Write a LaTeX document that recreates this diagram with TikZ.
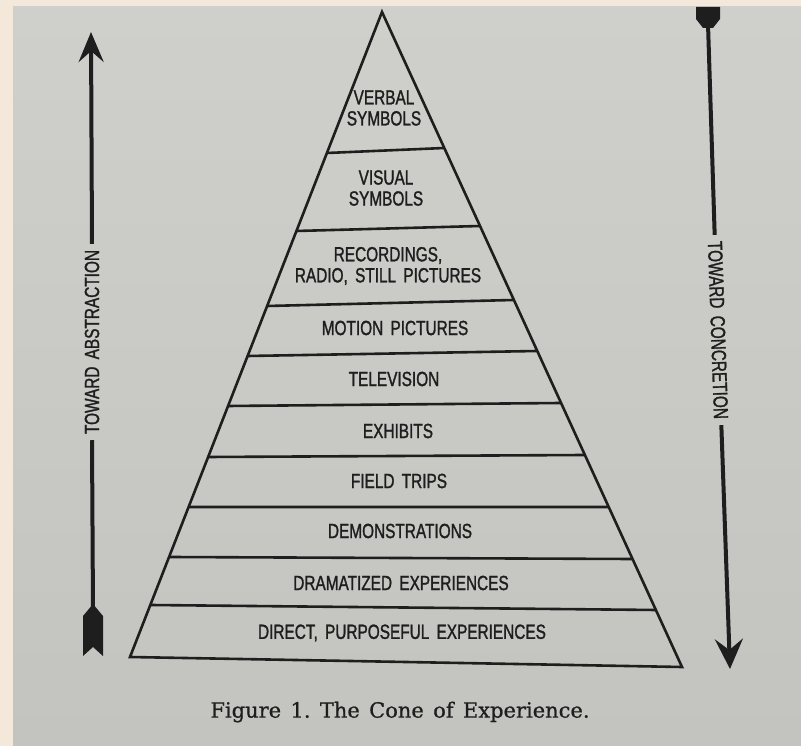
\documentclass[tikz,border=0pt]{standalone}
\usepackage{fontspec}
\usepackage{tikz}
\usetikzlibrary{arrows.meta, positioning, calc}
\newfontfamily\conefont[FakeStretch=0.75, FakeBold=1.3, WordSpace=1.7]{Liberation Sans}
\newfontfamily\capfont[WordSpace=1.4, FakeBold=0.8]{DejaVu Serif}
\definecolor{ink}{HTML}{1E1E1E}
\definecolor{cream}{HTML}{F4E8DA}
\definecolor{paperhi}{HTML}{CFD0CC}
\definecolor{paperlo}{HTML}{C3C4C0}

\begin{document}
\begin{tikzpicture}[x=1pt, y=-1pt,
  conel/.style={ink, line width=2.6pt},
  shaft/.style={ink, line width=4pt},
  lbl/.style={font=\conefont\fontsize{20.5}{21}\selectfont, text=ink, align=center, inner sep=0pt},
  side/.style={font=\conefont\fontsize{20.5}{21}\selectfont, text=ink, inner xsep=6pt, inner ysep=0pt}]
  \useasboundingbox (0,0) rectangle (801,746);
  \fill[cream] (0,0) rectangle (801,746);
  \shade[top color=paperhi, bottom color=paperlo] (13,7) rectangle (801,746);

  % the cone
  \coordinate (apex) at (382,12);
  \coordinate (bl) at (130,657);
  \coordinate (br) at (682,667);
  \draw[conel, line join=miter] (apex) -- (bl) -- (br) -- cycle;
  \foreach \yl/\yr [count=\i] in {153/148, 231/226, 306/300, 356/351, 406/403, 457/455, 507/507, 557/559, 605/610} {
    \coordinate (l\i) at ($(apex)!{(\yl-12)/645}!(bl)$);
    \coordinate (r\i) at ($(apex)!{(\yr-12)/655}!(br)$);
    \draw[conel] (l\i) -- (r\i);
  }

  \node[lbl] (verbal) at (384,108) {VERBAL\\SYMBOLS};
  \node[lbl] (visual) at (386,188) {VISUAL\\SYMBOLS};
  \node[lbl] (record) at (388,266) {RECORDINGS,\\RADIO, STILL PICTURES};
  \node[lbl] (motion) at (395,328) {MOTION PICTURES};
  \node[lbl] (tv) at (394,379) {TELEVISION};
  \node[lbl] (exhibit) at (398,431) {EXHIBITS};
  \node[lbl] (field) at (399,481) {FIELD TRIPS};
  \node[lbl] (demo) at (400,531) {DEMONSTRATIONS};
  \node[lbl] (drama) at (401,583) {DRAMATIZED EXPERIENCES};
  \node[lbl] (direct) at (402,633) {DIRECT, PURPOSEFUL EXPERIENCES};

  % side arrows
  \node[side, rotate=90] (abstr) at (92,342) {TOWARD ABSTRACTION};
  \coordinate (abtip) at (91,32);
  \coordinate (abfoot) at (93,612);
  \draw[shaft, -{Stealth[length=30pt, width=25pt, inset=11pt]}] (abstr.east) -- (abtip);
  \draw[shaft] (abstr.west) -- (abfoot);
  \fill[ink] (abfoot) ++(0,-8) -- ++(10,12) -- ++(0,40) -- ++(-10,-9) -- ++(-10,9) -- ++(0,-40) -- cycle;

  \node[side, rotate=-88] (concr) at (718,330) {TOWARD CONCRETION};
  \coordinate (cotop) at (708,24);
  \coordinate (cotip) at (730,669);
  \fill[ink] (696,7) -- (696,19) -- (703,28) -- (713,28) -- (720,19) -- (720,7) -- cycle;
  \draw[shaft] (cotop) -- (concr.west);
  \draw[shaft, -{Stealth[length=30pt, width=28pt, inset=11pt]}] (concr.east) -- (cotip);

  \node[font=\capfont\fontsize{21}{24}\selectfont, text=ink] (caption) at (400,712) {Figure 1.\ The Cone of Experience.};
\end{tikzpicture}
\end{document}
